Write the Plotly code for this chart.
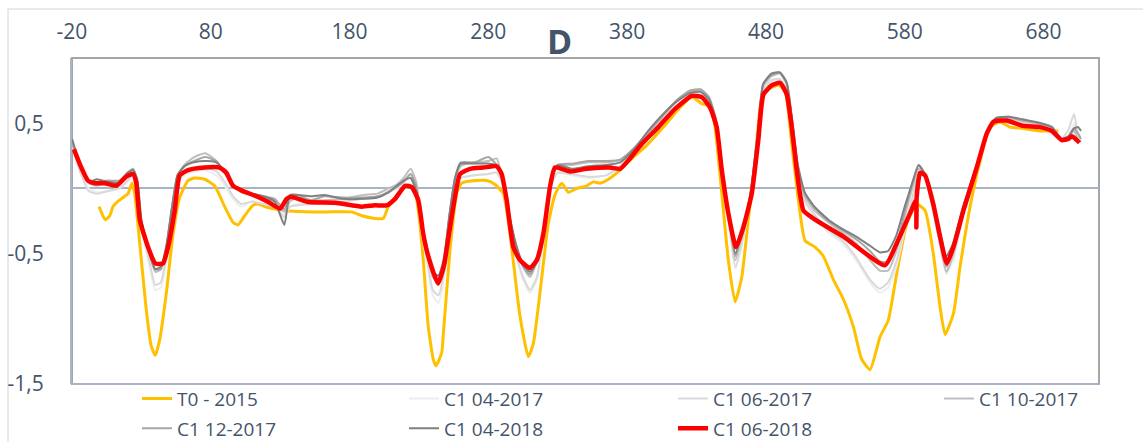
import plotly.graph_objects as go

# ---------------- data ----------------
x_tickvals = [-20, 80, 180, 280, 380, 480, 580, 680]
x_ticktext = ["-20", "80", "180", "280", "380", "480", "580", "680"]
y_tickvals = [-1.5, -0.5, 0.5]
y_ticktext = ["-1,5", "-0,5", "0,5"]

t0_x = [-0.5, 4.0, 7.2, 9.5, 13.1, 16.8, 20.4, 23.2, 25.2, 28.8, 33.5, 37.1, 40.0, 43.2, 48.0, 52.8,
        57.6, 63.6, 68.4, 75.6, 82.8, 90.0, 96.0, 99.6, 104.4, 110.4, 114.0, 120.5, 133.5, 147.9,
        167.1, 181.5, 188.8, 198.3, 204.3, 207.9, 212.8, 218.7, 223.6, 227.2, 229.5, 233.1, 236.7,
        240.3, 242.3, 246.4, 247.6, 252.4, 257.2, 260.8, 271.6, 278.8, 284.8, 290.8, 295.6, 302.8,
        308.8, 312.4, 317.2, 323.2, 328.0, 332.9, 337.6, 343.7, 350.9, 355.7, 360.5, 366.5, 374.9,
        384.5, 394.1, 406.1, 418.1, 426.6, 433.8, 439.7, 443.3, 448.2, 452.9, 457.8, 462.6, 467.3,
        472.2, 477.0, 481.7, 489.0, 493.8, 498.6, 503.4, 508.2, 515.4, 521.4, 528.6, 535.8, 543.0,
        549.0, 555.0, 562.2, 568.2, 574.3, 581.5, 588.7, 594.7, 600.6, 605.5, 609.1, 615.1, 619.9,
        627.1, 634.3, 641.5, 648.7, 655.9, 665.5, 677.5, 684.7, 690.7]
t0_y = [-0.14, -0.24, -0.21, -0.14, -0.10, -0.07, -0.04, 0.04, -0.04, -0.42, -0.93, -1.21, -1.28,
        -1.16, -0.80, -0.35, -0.07, 0.06, 0.08, 0.07, 0.02, -0.14, -0.26, -0.28, -0.21, -0.13, -0.12,
        -0.145, -0.17, -0.18, -0.18, -0.18, -0.21, -0.23, -0.23, -0.14, -0.07, 0.00, 0.02, -0.02,
        -0.17, -0.55, -1.06, -1.31, -1.36, -1.26, -1.11, -0.47, -0.04, 0.04, 0.06, 0.06, 0.03, -0.04,
        -0.35, -0.98, -1.29, -1.19, -0.80, -0.27, -0.05, 0.04, -0.03, 0.00, 0.02, 0.05, 0.04, 0.07,
        0.14, 0.24, 0.33, 0.47, 0.62, 0.70, 0.65, 0.63, 0.47, -0.04, -0.55, -0.87, -0.68, -0.24,
        0.21, 0.70, 0.76, 0.79, 0.75, 0.34, -0.09, -0.40, -0.45, -0.52, -0.70, -0.85, -1.06, -1.31,
        -1.39, -1.14, -1.01, -0.65, -0.27, -0.12, -0.17, -0.50, -0.91, -1.12, -0.96, -0.60, -0.14,
        0.21, 0.47, 0.51, 0.47, 0.46, 0.44, 0.44, 0.44]

gray_x = [-20, -14, -8, -2, 6, 14, 20, 24, 27, 30, 35, 40, 44, 48, 52, 56, 61, 68, 76, 84,
          90, 96, 102, 110, 118, 126, 133, 137, 143, 152, 162, 175, 190, 200, 208, 214, 219, 224, 228, 232,
          236, 240, 244, 248, 252, 256, 260, 270, 280, 286, 290, 295, 300, 305, 310, 315, 320, 325, 330, 340,
          352, 365, 375, 385, 395, 405, 415, 425, 433, 439, 444, 448, 453, 458, 463, 469, 474, 478, 484, 490,
          495, 499, 503, 508, 515, 525, 535, 545, 555, 562, 568, 574, 580, 586, 590, 594, 600, 605, 610, 615,
          622, 632, 640, 646, 655, 665, 678, 686, 693, 698, 702, 705, 707]

c1_04_2017 = [0.34, 0.15, 0.00, -0.03, -0.02, 0.00, 0.05, 0.10, 0.00, -0.30, -0.55, -0.78, -0.76, -0.55, -0.22, 0.02, 0.10, 0.13, 0.14, 0.10,
              0.02, -0.08, -0.14, -0.10, -0.12, -0.14, -0.20, -0.14, -0.12, -0.12, -0.11, -0.10, -0.08, -0.07, -0.03, 0.00, 0.04, 0.09, 0.00, -0.35,
              -0.58, -0.82, -0.88, -0.70, -0.30, 0.00, 0.08, 0.10, 0.11, 0.13, 0.04, -0.25, -0.52, -0.70, -0.80, -0.70, -0.35, 0.02, 0.12, 0.10,
              0.08, 0.10, 0.16, 0.28, 0.38, 0.50, 0.62, 0.70, 0.72, 0.66, 0.50, 0.14, -0.25, -0.62, -0.42, -0.06, 0.40, 0.74, 0.82, 0.83,
              0.76, 0.45, 0.12, -0.10, -0.22, -0.34, -0.42, -0.55, -0.72, -0.80, -0.76, -0.60, -0.32, -0.08, 0.10, 0.08, -0.16, -0.42, -0.66, -0.55,
              -0.22, 0.16, 0.44, 0.53, 0.52, 0.50, 0.48, 0.46, 0.38, 0.40, 0.50, 0.38, 0.36]
c1_06_2017 = [0.33, 0.12, -0.02, -0.04, -0.02, 0.00, 0.06, 0.11, 0.02, -0.28, -0.52, -0.74, -0.72, -0.52, -0.20, 0.05, 0.12, 0.15, 0.16, 0.13,
              0.05, -0.06, -0.12, -0.10, -0.12, -0.14, -0.22, -0.14, -0.13, -0.12, -0.11, -0.10, -0.08, -0.07, -0.02, 0.02, 0.06, 0.11, 0.02, -0.32,
              -0.55, -0.78, -0.82, -0.65, -0.28, 0.02, 0.08, 0.10, 0.11, 0.12, 0.04, -0.24, -0.50, -0.68, -0.78, -0.68, -0.33, 0.03, 0.12, 0.11,
              0.09, 0.10, 0.17, 0.28, 0.38, 0.50, 0.62, 0.70, 0.72, 0.66, 0.50, 0.14, -0.24, -0.60, -0.40, -0.05, 0.40, 0.75, 0.83, 0.84,
              0.76, 0.45, 0.12, -0.09, -0.20, -0.32, -0.40, -0.53, -0.70, -0.77, -0.72, -0.56, -0.30, -0.05, 0.12, 0.10, -0.14, -0.40, -0.64, -0.52,
              -0.20, 0.17, 0.44, 0.53, 0.53, 0.51, 0.49, 0.47, 0.38, 0.45, 0.57, 0.40, 0.36]
c1_10_2017 = [0.35, 0.16, 0.04, 0.02, 0.05, 0.05, 0.10, 0.14, 0.05, -0.26, -0.48, -0.64, -0.62, -0.45, -0.15, 0.10, 0.18, 0.24, 0.27, 0.21,
              0.12, 0.03, -0.03, -0.05, -0.08, -0.10, -0.18, -0.10, -0.07, -0.09, -0.09, -0.08, -0.05, -0.04, 0.00, 0.03, 0.08, 0.15, 0.05, -0.28,
              -0.50, -0.68, -0.70, -0.55, -0.22, 0.06, 0.17, 0.20, 0.21, 0.23, 0.08, -0.20, -0.45, -0.60, -0.68, -0.56, -0.30, 0.06, 0.17, 0.18,
              0.20, 0.20, 0.22, 0.30, 0.42, 0.54, 0.66, 0.74, 0.75, 0.69, 0.52, 0.16, -0.20, -0.55, -0.35, -0.04, 0.41, 0.78, 0.86, 0.88,
              0.80, 0.48, 0.15, -0.06, -0.17, -0.26, -0.34, -0.42, -0.55, -0.63, -0.63, -0.48, -0.22, 0.02, 0.15, 0.12, -0.14, -0.40, -0.64, -0.50,
              -0.18, 0.18, 0.45, 0.54, 0.54, 0.52, 0.49, 0.47, 0.38, 0.40, 0.44, 0.37, 0.36]
c1_12_2017 = [0.36, 0.17, 0.05, 0.05, 0.06, 0.06, 0.12, 0.15, 0.06, -0.25, -0.47, -0.62, -0.62, -0.45, -0.15, 0.10, 0.17, 0.21, 0.24, 0.21,
              0.12, 0.03, -0.02, -0.04, -0.06, -0.08, -0.16, -0.06, -0.05, -0.09, -0.06, -0.07, -0.07, -0.06, -0.03, 0.01, 0.05, 0.11, 0.02, -0.28,
              -0.48, -0.65, -0.67, -0.53, -0.20, 0.08, 0.20, 0.20, 0.24, 0.18, 0.08, -0.22, -0.45, -0.60, -0.66, -0.56, -0.30, 0.06, 0.18, 0.19,
              0.21, 0.21, 0.22, 0.31, 0.43, 0.55, 0.67, 0.75, 0.76, 0.70, 0.53, 0.17, -0.20, -0.52, -0.33, -0.03, 0.42, 0.80, 0.87, 0.89,
              0.81, 0.50, 0.17, -0.04, -0.15, -0.25, -0.32, -0.39, -0.48, -0.56, -0.56, -0.44, -0.18, 0.06, 0.18, 0.12, -0.12, -0.36, -0.60, -0.47,
              -0.16, 0.18, 0.45, 0.54, 0.55, 0.52, 0.50, 0.47, 0.38, 0.40, 0.46, 0.42, 0.38]
c1_04_2018 = [0.38, 0.18, 0.05, 0.07, 0.05, 0.04, 0.12, 0.14, 0.07, -0.24, -0.46, -0.62, -0.60, -0.44, -0.15, 0.10, 0.17, 0.20, 0.21, 0.20,
              0.13, 0.03, -0.02, -0.04, -0.06, -0.10, -0.28, -0.05, -0.05, -0.06, -0.05, -0.08, -0.08, -0.07, -0.03, 0.02, 0.06, 0.08, -0.02, -0.28,
              -0.46, -0.64, -0.67, -0.55, -0.20, 0.08, 0.19, 0.19, 0.19, 0.18, 0.08, -0.20, -0.43, -0.58, -0.64, -0.56, -0.30, 0.06, 0.18, 0.15,
              0.17, 0.18, 0.20, 0.30, 0.44, 0.56, 0.66, 0.73, 0.74, 0.68, 0.52, 0.17, -0.20, -0.50, -0.32, -0.03, 0.42, 0.80, 0.88, 0.89,
              0.81, 0.52, 0.18, -0.03, -0.14, -0.24, -0.31, -0.37, -0.44, -0.49, -0.48, -0.36, -0.14, 0.06, 0.18, 0.12, -0.10, -0.32, -0.52, -0.42,
              -0.14, 0.18, 0.45, 0.54, 0.55, 0.53, 0.50, 0.47, 0.38, 0.40, 0.46, 0.47, 0.44]

red_x = [-18.6, -13.3, -8.5, -3.6, 3.6, 11.9, 19.1, 24.0, 26.3, 28.8, 34.8, 40.0, 45.6, 49.2, 54.0, 57.6,
         63.6, 75.6, 86.4, 91.2, 96.0, 102.0, 114.0, 121.5, 129.9, 134.7, 138.3, 150.3, 169.5, 188.8,
         198.3, 206.8, 212.8, 220.0, 224.8, 229.5, 233.1, 236.7, 243.7, 248.1, 250.9, 254.8, 259.6,
         266.8, 276.4, 286.0, 289.6, 293.2, 298.0, 302.8, 310.0, 314.9, 319.6, 324.4, 328.0, 338.9,
         350.9, 367.7, 374.9, 382.1, 390.5, 402.5, 414.5, 426.6, 433.8, 439.7, 444.5, 448.2, 452.9,
         458.5, 463.7, 469.8, 474.5, 478.2, 484.2, 490.2, 495.0, 498.6, 502.2, 505.3, 507.0, 515.4,
         535.8, 565.8, 574.3, 583.9, 588.2, 588.4, 588.6, 591.1, 594.7, 600.6, 605.5, 610.3, 615.1,
         622.3, 631.9, 639.1, 643.9, 648.7, 653.5, 665.5, 677.5, 686.0, 693.2, 697.9, 700.4, 704.0, 705.9]
red_y = [0.30, 0.16, 0.06, 0.04, 0.04, 0.02, 0.09, 0.11, 0.04, -0.24, -0.45, -0.575, -0.575, -0.45, -0.17,
         0.10, 0.14, 0.16, 0.16, 0.12, 0.02, -0.015, -0.066, -0.105, -0.155, -0.08, -0.066, -0.105, -0.11,
         -0.14, -0.13, -0.13, -0.08, 0.02, 0.01, -0.09, -0.35, -0.52, -0.73, -0.59, -0.40, -0.14, 0.11,
         0.15, 0.16, 0.17, 0.11, -0.09, -0.45, -0.55, -0.61, -0.55, -0.35, 0.01, 0.16, 0.13, 0.15, 0.16,
         0.15, 0.23, 0.34, 0.47, 0.61, 0.71, 0.70, 0.62, 0.47, 0.14, -0.19, -0.45, -0.30, -0.04, 0.37,
         0.72, 0.79, 0.81, 0.72, 0.47, 0.14, -0.09, -0.17, -0.24, -0.37, -0.59, -0.42, -0.19, -0.09,
         -0.30, -0.07, 0.12, 0.10, -0.12, -0.37, -0.575, -0.45, -0.17, 0.16, 0.42, 0.51, 0.52, 0.52,
         0.48, 0.47, 0.44, 0.37, 0.38, 0.40, 0.37, 0.35]

# name, x, y, colour, width, legend column
series = [
    ("T0 - 2015", t0_x, t0_y, "#FFC000", 3, "legend"),
    ("C1 04-2017", gray_x, c1_04_2017, "#EEEEEE", 2, "legend2"),
    ("C1 06-2017", gray_x, c1_06_2017, "#D9D9D9", 2, "legend3"),
    ("C1 10-2017", gray_x, c1_10_2017, "#BFBFBF", 2, "legend4"),
    ("C1 12-2017", gray_x, c1_12_2017, "#A6A6A6", 2, "legend"),
    ("C1 04-2018", gray_x, c1_04_2018, "#808080", 2, "legend2"),
    ("C1 06-2018", red_x, red_y, "#FF0000", 4.5, "legend3"),
]

# ---------------- figure ----------------
TXT = "#44546A"
AXC = "#A9B4C6"
FONT = "Open Sans"

fig = go.Figure()
for name, xs, ys, col, w, leg in series:
    fig.add_trace(go.Scatter(
        x=xs, y=ys, name=name, mode="lines", legend=leg, legendgroup=name,
        line=dict(color=col, width=w, shape="spline", smoothing=0.5),
        hoverinfo="skip",
    ))

def legend_at(xpx):
    return dict(
        orientation="v", xref="container", yref="container",
        x=xpx / 1143, xanchor="left", y=0.141, yanchor="top",
        font=dict(family=FONT, size=19, color=TXT),
        bgcolor="rgba(0,0,0,0)", tracegroupgap=2,
    )

fig.update_layout(
    width=1143, height=442,
    margin=dict(l=72, r=44, t=58, b=58, autoexpand=False),
    paper_bgcolor="white", plot_bgcolor="white",
    font=dict(family=FONT, color=TXT),
    showlegend=True,
    legend=legend_at(137),
    legend2=legend_at(404),
    legend3=legend_at(673),
    legend4=legend_at(939),
    xaxis=dict(
        range=[-20, 720], side="top", tickvals=x_tickvals, ticktext=x_ticktext,
        showgrid=False, zeroline=False, showline=False, ticks="",
        ticklabelstandoff=14, tickfont=dict(family=FONT, size=21, color=TXT),
    ),
    yaxis=dict(
        range=[-1.5, 1.0], tickvals=y_tickvals, ticktext=y_ticktext,
        showgrid=False, zeroline=True, zerolinecolor=AXC, zerolinewidth=2,
        showline=True, linecolor=AXC, linewidth=2, ticks="",
        ticklabelstandoff=22, tickfont=dict(family=FONT, size=21, color=TXT),
    ),
    shapes=[
        dict(type="rect", xref="paper", yref="paper", x0=0, x1=1, y0=0, y1=1,
             line=dict(color="#A6A6A6", width=2), layer="below"),
        dict(type="line", xref="paper", yref="paper", x0=0, x1=1, y0=0, y1=0,
             line=dict(color=AXC, width=2), layer="below"),
        dict(type="rect", xref="paper", yref="paper", x0=-0.0623, x1=1.06, y0=-0.21, y1=1.1503,
             line=dict(color="#E3E3E3", width=1.5), layer="below"),
    ],
    annotations=[
        dict(text="<b>D</b>", xref="paper", yref="paper", x=0.475, y=1.052,
             xanchor="center", yanchor="middle", showarrow=False,
             font=dict(family=FONT, size=34, color=TXT)),
    ],
)

fig.write_html("out.html")
